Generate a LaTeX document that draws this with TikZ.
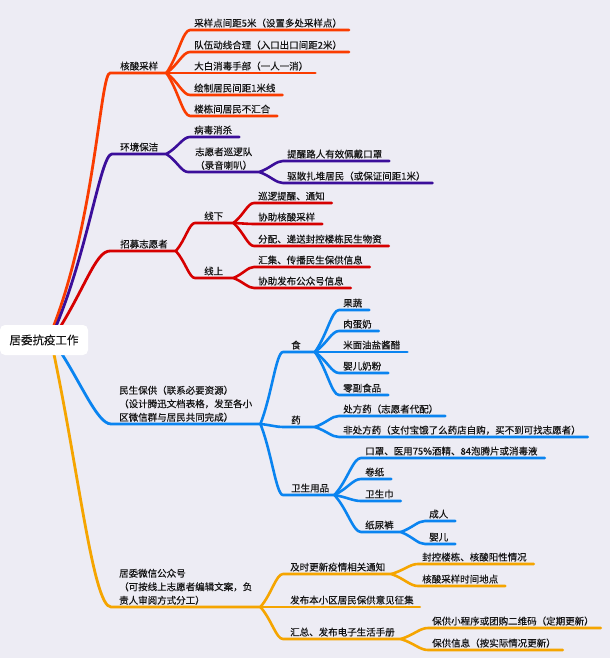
\documentclass[tikz,border=0pt]{standalone}
\usepackage{fontspec}
\newfontfamily\cjk[FakeBold=0.3]{Noto Sans CJK SC}
\usetikzlibrary{calc}
\definecolor{cO}{HTML}{FA3C00}
\definecolor{cP}{HTML}{3B0E9A}
\definecolor{cR}{HTML}{D60000}
\definecolor{cB}{HTML}{0A84F0}
\definecolor{cY}{HTML}{F5A500}
\definecolor{bgc}{HTML}{EDECF4}
\definecolor{tx}{HTML}{141414}
\tikzset{
  lab/.style 2 args={font=\cjk\fontsize{9.5}{13.5}\selectfont, text=tx,
    inner xsep=0pt, inner ysep=1.9pt, text height=7.8pt, text depth=1.2pt,
    anchor=south west,
    execute at begin node={\hspace*{#1pt}},
    execute at end node={\hspace*{#2pt}}},
  leaf/.style={lab={4}{7}},
  multi/.style={font=\cjk\fontsize{9.5}{13.5}\selectfont, text=tx, align=left,
    inner xsep=8pt, inner ysep=2pt, anchor=south west},
  br/.style={to path={let \p1=(\tikztostart), \p2=(\tikztotarget) in
    .. controls ({\x1+0.5*(\x2-\x1)},{\y1+0.4*(\y2-\y1)}) and ({\x2-0.3*(\x2-\x1)},\y2) .. (\tikztotarget)}},
  ln/.style={line width=2.6pt, line cap=round, line join=round},
  stem/.style={line width=2.8pt, line cap=round, line join=round},
  rootbox/.style={fill=white, rounded corners=5pt, minimum width=88pt, minimum height=30pt,
    inner sep=0pt, font=\cjk\fontsize{11.5}{13}\selectfont, text=tx},
}
\begin{document}
\begin{tikzpicture}[x=1pt,y=-1pt]
\fill[bgc] (0,0) rectangle (610,658);
\useasboundingbox (0,0) rectangle (610,658);

% ---------- orange: 核酸采样
\node[lab={10}{8}] (A) at (110,73) {核酸采样};
\node[leaf] (A1) at (190,30) {采样点间距5米（设置多处采样点）};
\node[leaf] (A2) at (190,52) {队伍动线合理（入口出口间距2米）};
\node[leaf] (A3) at (190,73) {大白消毒手部（一人一消）};
\node[leaf] (A4) at (190,95) {绘制居民间距1米线};
\node[leaf] (A5) at (190,116) {楼栋间居民不汇合};

% ---------- purple: 环境保洁
\node[lab={8}{8}] (B) at (112,154) {环境保洁};
\node[leaf] (B1) at (190,137) {病毒消杀};
\node[multi, align=center, inner xsep=7pt] (B2) at (188,172) {志愿者巡逻队\\（录音喇叭）};
\node[leaf] (B21) at (283,161) {提醒路人有效佩戴口罩};
\node[leaf] (B22) at (283,183) {驱散扎堆居民（或保证间距1米）};

% ---------- red: 招募志愿者
\node[lab={10}{8}] (C) at (110,251) {招募志愿者};
\node[lab={9}{10}] (C1) at (195,223) {线下};
\node[lab={9}{10}] (C2) at (195,278) {线上};
\node[leaf] (C11) at (254,203) {巡逻提醒、通知};
\node[leaf] (C12) at (254,224) {协助核酸采样};
\node[leaf] (C13) at (254,246) {分配、递送封控楼栋民生物资};
\node[leaf] (C21) at (254,267) {汇集、传播民生保供信息};
\node[leaf] (C22) at (254,288) {协助发布公众号信息};

% ---------- blue: 民生保供
\node[multi] (D) at (111,424) {民生保供（联系必要资源）\\（设计腾迅文档表格，发至各小\\区微信群与居民共同完成）};
\node[lab={8}{14}] (D1) at (283,352) {食};
\node[lab={8}{14}] (D2) at (283,427) {药};
\node[lab={8}{5}] (D3) at (283,495) {卫生用品};
\node[leaf] (D11) at (339,310) {果蔬};
\node[leaf] (D12) at (339,331) {肉蛋奶};
\node[leaf] (D13) at (339,352) {米面油盐酱醋};
\node[leaf] (D14) at (339,373) {婴儿奶粉};
\node[leaf] (D15) at (339,395) {零副食品};
\node[leaf] (D21) at (339,416) {处方药（志愿者代配）};
\node[leaf] (D22) at (339,437) {非处方药（支付宝饿了么药店自购，买不到可找志愿者）};
\node[leaf] (D31) at (361,458) {口罩、医用75\%酒精、84泡腾片或消毒液};
\node[leaf] (D32) at (361,479) {卷纸};
\node[leaf] (D33) at (361,501) {卫生巾};
\node[leaf] (D34) at (361,532) {纸尿裤};
\node[leaf] (D341) at (425,521) {成人};
\node[leaf] (D342) at (425,544) {婴儿};

% ---------- yellow: 居委微信公众号
\node[multi] (E) at (111,607) {居委微信公众号\\（可按线上志愿者编辑文案，负\\责人审阅方式分工）};
\node[lab={7}{6}] (E1) at (283,574) {及时更新疫情相关通知};
\node[lab={7}{6}] (E2) at (283,607) {发布本小区居民保供意见征集};
\node[lab={7}{6}] (E3) at (283,639) {汇总、发布电子生活手册};
\node[leaf] (E11) at (418,564) {封控楼栋、核酸阳性情况};
\node[leaf] (E12) at (418,586) {核酸采样时间地点};
\node[leaf] (E31) at (428,628) {保供小程序或团购二维码（定期更新）};
\node[leaf] (E32) at (428,650) {保供信息（按实际情况更新）};

% ---------- stems from root
\coordinate (sO) at (48,340);
\coordinate (sP) at (50,340);
\coordinate (sR) at (52,340);
\coordinate (sB) at (56,345);
\coordinate (sY) at (52,345);
\draw[stem,cO] (sO) .. controls (95,230) and (100,73) .. (A.south west) -- (A.south east);
\draw[stem,cP] (sP) .. controls (87,260) and (100,154) .. (B.south west) -- (B.south east);
\draw[stem,cR] (sR) .. controls (85,290) and (95,251) .. (C.south west) -- (C.south east);
\draw[stem,cB] (sB) .. controls (80,380) and (97,424) .. (D.south west) -- (D.south east);
\draw[stem,cY] (sY) .. controls (78,466) and (93,607) .. (E.south west) -- (E.south east);

% ---------- branches
\foreach \c in {A1,A2,A3,A4,A5}
  \draw[ln,cO] (A.south east) to[br] (\c.south west) -- (\c.south east);
\foreach \c in {B1,B2}
  \draw[ln,cP] (B.south east) to[br] (\c.south west) -- (\c.south east);
\foreach \c in {B21,B22}
  \draw[ln,cP] (B2.south east) to[br] (\c.south west) -- (\c.south east);
\foreach \c in {C1,C2}
  \draw[ln,cR] (C.south east) to[br] (\c.south west) -- (\c.south east);
\foreach \c in {C11,C12,C13}
  \draw[ln,cR] (C1.south east) to[br] (\c.south west) -- (\c.south east);
\foreach \c in {C21,C22}
  \draw[ln,cR] (C2.south east) to[br] (\c.south west) -- (\c.south east);
\foreach \c in {D1,D2,D3}
  \draw[ln,cB] (D.south east) to[br] (\c.south west) -- (\c.south east);
\foreach \c in {D11,D12,D13,D14,D15}
  \draw[ln,cB] (D1.south east) to[br] (\c.south west) -- (\c.south east);
\foreach \c in {D21,D22}
  \draw[ln,cB] (D2.south east) to[br] (\c.south west) -- (\c.south east);
\foreach \c in {D31,D32,D33,D34}
  \draw[ln,cB] (D3.south east) to[br] (\c.south west) -- (\c.south east);
\foreach \c in {D341,D342}
  \draw[ln,cB] (D34.south east) to[br] (\c.south west) -- (\c.south east);
\foreach \c in {E1,E2,E3}
  \draw[ln,cY] (E.south east) to[br] (\c.south west) -- (\c.south east);
\foreach \c in {E11,E12}
  \draw[ln,cY] (E1.south east) to[br] (\c.south west) -- (\c.south east);
\foreach \c in {E31,E32}
  \draw[ln,cY] (E3.south east) to[br] (\c.south west) -- (\c.south east);

% ---------- root
\node[rootbox] (root) at (44,340) {居委抗疫工作};
\end{tikzpicture}
\end{document}
